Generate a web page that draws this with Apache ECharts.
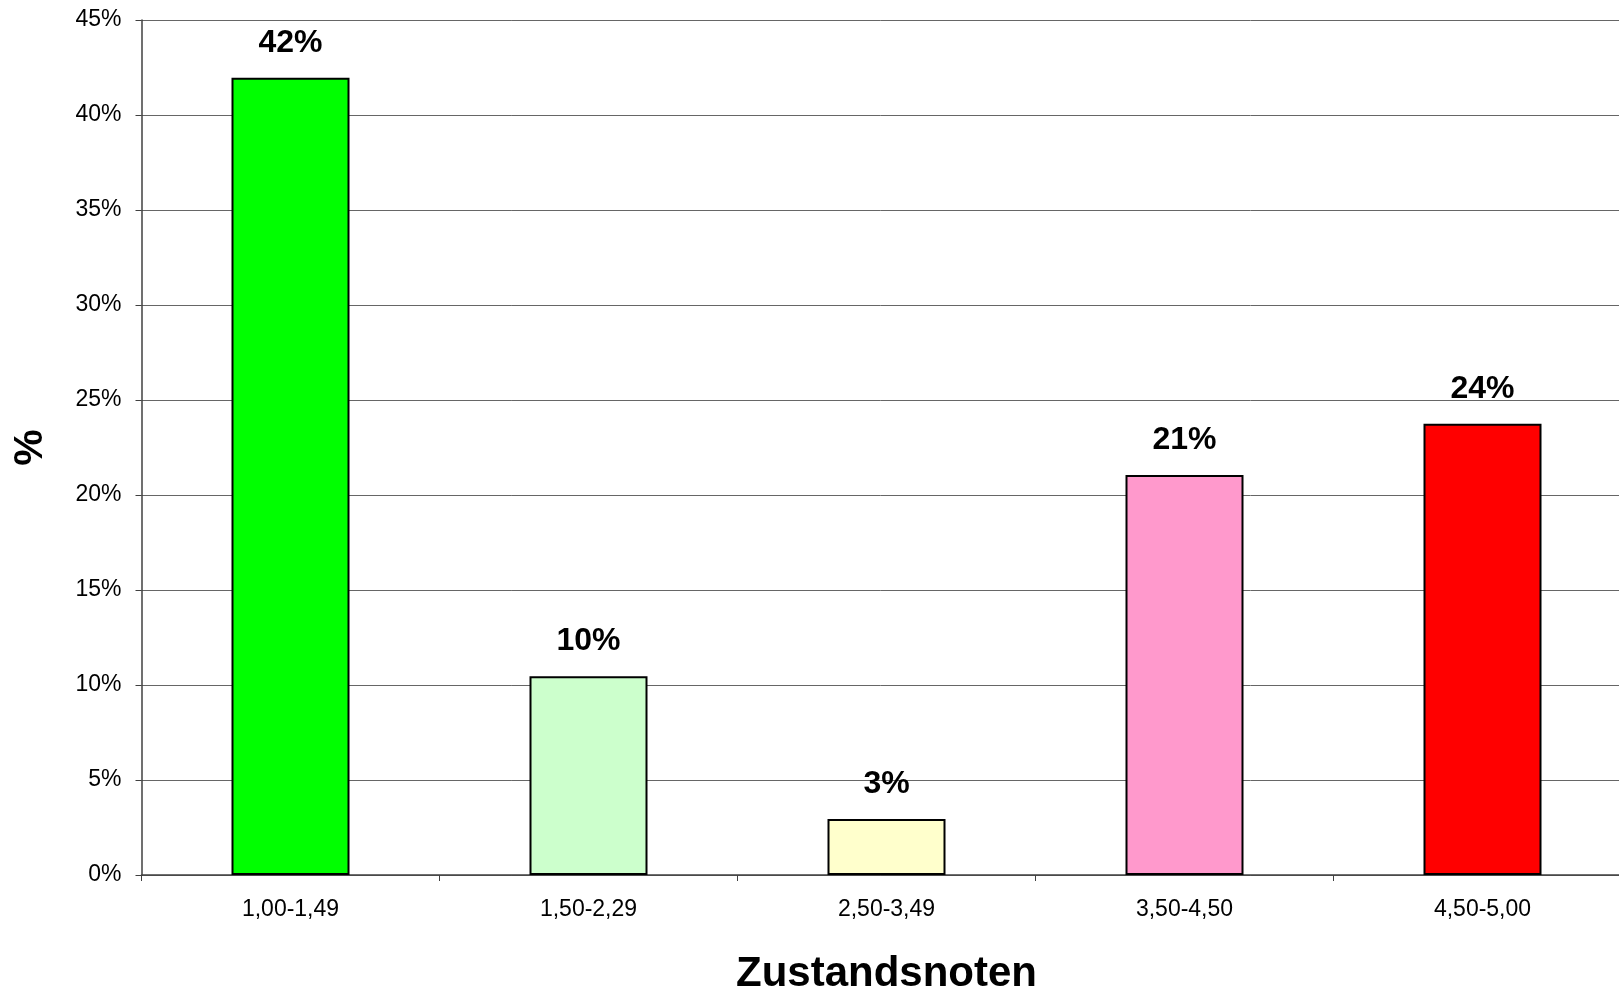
<!DOCTYPE html>
<html>
<head>
<meta charset="utf-8">
<script src="https://cdn.jsdelivr.net/npm/echarts@6/dist/echarts.min.js"></script>
<style>
html,body{margin:0;padding:0;background:#fff;}
#chart{width:1619px;height:992px;}
</style>
</head>
<body>
<div id="chart"></div>
<script>
const categories = ['1,00-1,49', '1,50-2,29', '2,50-3,49', '3,50-4,50', '4,50-5,00'];
const values = [41.96, 10.46, 2.95, 21.05, 23.75];
const barLabels = ['42%', '10%', '3%', '21%', '24%'];
const barColors = ['#00FF00', '#CCFFCC', '#FFFFCC', '#FF99CC', '#FF0000'];
const yMin = 0, yMax = 45, yStep = 5;
const xTitle = 'Zustandsnoten';
const yTitle = '%';

const chart = echarts.init(document.getElementById('chart'), null, {renderer: 'canvas'});
const font = 'Liberation Sans, Arial, sans-serif';
chart.setOption({
  animation: false,
  backgroundColor: '#ffffff',
  grid: {left: 141.5, top: 20, bottom: 117, width: 1490, containLabel: false, outerBoundsMode: 'none'},
  xAxis: {
    type: 'category',
    data: categories,
    boundaryGap: true,
    name: xTitle,
    nameLocation: 'middle',
    nameGap: 78,
    nameTextStyle: {fontFamily: font, fontSize: 42, fontWeight: 'bold', color: '#000'},
    axisLine: {lineStyle: {color: '#404040', width: 1.5}},
    axisTick: {show: true, alignWithLabel: false, length: 6, lineStyle: {color: '#404040', width: 1}},
    axisLabel: {fontFamily: font, fontSize: 23, color: '#000', margin: 23, interval: 0},
    splitLine: {show: false}
  },
  yAxis: {
    type: 'value',
    min: yMin, max: yMax, interval: yStep,
    name: yTitle,
    nameLocation: 'middle',
    nameRotate: 90,
    nameGap: 90,
    nameTextStyle: {fontFamily: font, fontSize: 41, fontWeight: 'bold', color: '#000'},
    axisLine: {show: true, lineStyle: {color: '#404040', width: 1.5}},
    axisTick: {show: true, length: 6, lineStyle: {color: '#404040', width: 1}},
    axisLabel: {fontFamily: font, fontSize: 23, color: '#000', margin: 20, formatter: '{value}%'},
    splitLine: {show: true, lineStyle: {color: '#666666', width: 1}}
  },
  series: [{
    type: 'bar',
    barWidth: 118,
    data: values.map((v, i) => ({
      value: v,
      itemStyle: {color: barColors[i], borderColor: '#000', borderWidth: 2},
      label: {formatter: barLabels[i]}
    })),
    label: {
      show: true,
      position: 'top',
      distance: 19,
      fontFamily: font,
      fontSize: 32,
      fontWeight: 'bold',
      color: '#000'
    }
  }]
});
</script>
</body>
</html>
